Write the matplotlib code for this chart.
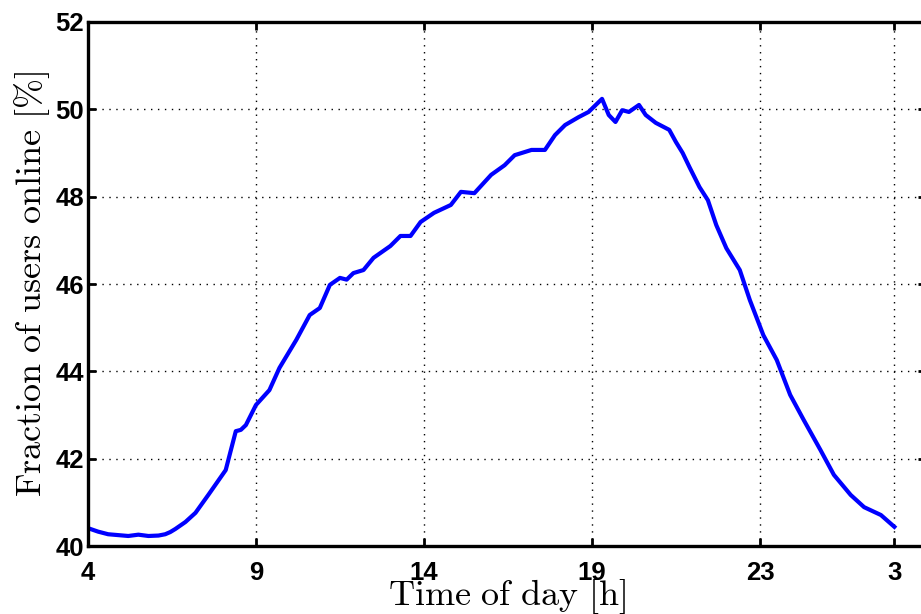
import matplotlib
matplotlib.use("Agg")
import matplotlib.pyplot as plt
import numpy as np

# time of day in hours (4 = 4am, 28 = 4am next day)
hours = [4.0, 4.3, 4.6, 4.9, 5.2, 5.5, 5.8, 6.1, 6.3, 6.45, 6.6, 6.9, 7.2,
         7.6, 8.1, 8.4, 8.55, 8.7, 9.0, 9.4, 9.7, 10.2, 10.6, 10.9, 11.2,
         11.5, 11.7, 11.9, 12.2, 12.5, 13.0, 13.3, 13.6, 13.9, 14.3, 14.8,
         15.1, 15.5, 16.0, 16.4, 16.7, 17.2, 17.6, 17.9, 18.2, 18.6, 18.9,
         19.3, 19.5, 19.7, 19.9, 20.1, 20.4, 20.6, 20.9, 21.3, 21.5, 21.7,
         21.9, 22.2, 22.45, 22.7, 23.0, 23.4, 23.7, 24.1, 24.5, 24.9, 25.3,
         25.8, 26.2, 26.7, 27.1, 27.6, 28.0]
online = [40.41, 40.33, 40.27, 40.25, 40.23, 40.26, 40.23, 40.24, 40.27,
          40.32, 40.39, 40.55, 40.76, 41.19, 41.74, 42.63, 42.66, 42.77,
          43.23, 43.57, 44.08, 44.72, 45.29, 45.45, 45.98, 46.14, 46.10,
          46.25, 46.32, 46.60, 46.87, 47.10, 47.10, 47.42, 47.63, 47.81,
          48.11, 48.08, 48.50, 48.72, 48.95, 49.07, 49.07, 49.41, 49.64,
          49.82, 49.94, 50.24, 49.87, 49.71, 49.98, 49.94, 50.10, 49.87,
          49.69, 49.53, 49.25, 49.00, 48.68, 48.22, 47.92, 47.35, 46.82,
          46.32, 45.63, 44.83, 44.26, 43.46, 42.89, 42.20, 41.63, 41.17,
          40.89, 40.71, 40.44]

xtick_pos = [4, 9, 14, 19, 24, 28]
xtick_labels = ["4", "9", "14", "19", "23", "3"]
ytick_pos = [40, 42, 44, 46, 48, 50, 52]

plt.rcParams['mathtext.fontset'] = 'cm'

fig = plt.figure(figsize=(9.21, 6.14), dpi=100)
# axes run a little past the right edge of the picture
ax = fig.add_axes([0.0955, 0.1107, 0.91, 0.8535])

ax.plot(hours, online, color=(0, 0, 1), lw=3)

ax.set_xlim(4, 4 + 0.91 * 921 / 33.6)
ax.set_ylim(40, 52)
ax.set_xticks(xtick_pos)
ax.set_xticklabels(xtick_labels)
ax.set_yticks(ytick_pos)

for lab in ax.get_xticklabels() + ax.get_yticklabels():
    lab.set_fontfamily("Liberation Sans")
    lab.set_fontweight("bold")
    lab.set_fontsize(18.5)

ax.tick_params(direction="in", length=6, width=2, top=True, right=True)
ax.tick_params(axis="x", pad=11)
ax.tick_params(axis="y", pad=3)
for s in ax.spines.values():
    s.set_linewidth(2.4)

ax.grid(True, linestyle=(0, (1, 4)), color="black", lw=1)

ax.set_xlabel(r"$\mathrm{Time\ of\ day\ [h]}$", fontsize=26, labelpad=-6)
ax.set_ylabel(r"$\mathrm{Fraction\ of\ users\ online\ [\%]}$", fontsize=26, labelpad=2)

fig.savefig("out.png", dpi=100)
